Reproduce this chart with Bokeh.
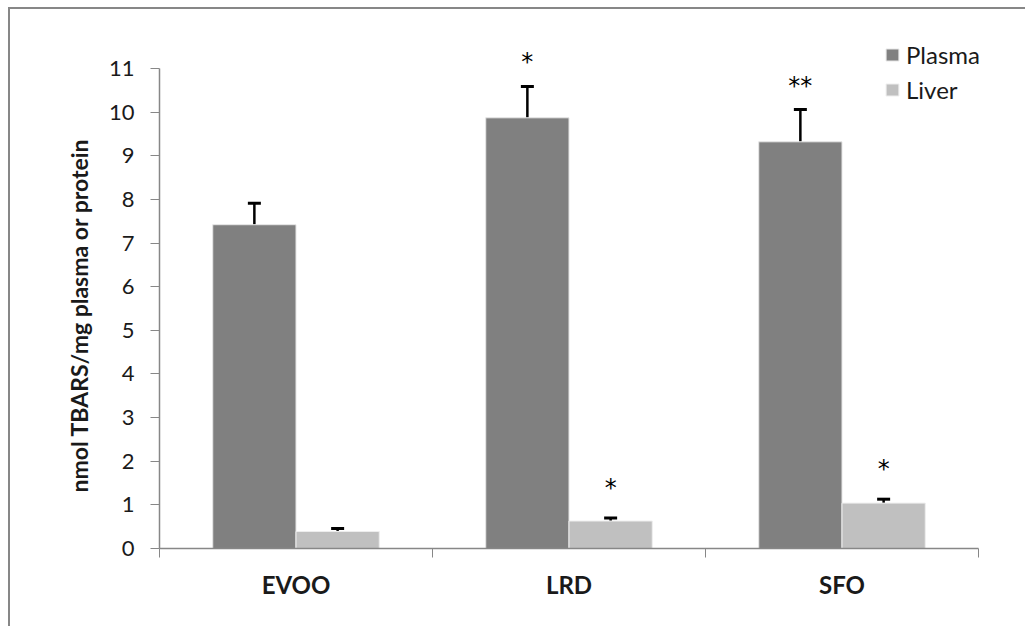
import numpy as np
from bokeh.plotting import figure
from bokeh.models import (ColumnDataSource, Whisker, TeeHead, FixedTicker, Legend, LegendItem,
                          Range1d, Title)
from bokeh.core.properties import value
from bokeh.embed import file_html
from bokeh.resources import INLINE

categories = ["EVOO", "LRD", "SFO"]
plasma = [7.42, 9.87, 9.32]
plasma_err = [0.49, 0.72, 0.74]
liver = [0.39, 0.63, 1.04]
liver_err = [0.07, 0.07, 0.09]
plasma_sig = ["", "*", "**"]
liver_sig = ["", "*", "*"]
y_ticks = list(range(0, 12))
y_title = "nmol TBARS/mg plasma or protein"

FONT = "Lato"
TXT = "#1a1a1a"
AX = "#878787"
DARK = "#808080"
LIGHT = "#c0c0c0"
BW = 0.305

idx = np.arange(len(categories))
centers = idx + 0.5
src_p = ColumnDataSource(dict(x=centers - BW / 2, top=plasma,
                              upper=np.array(plasma) + np.array(plasma_err),
                              sig=plasma_sig))
src_l = ColumnDataSource(dict(x=centers + BW / 2, top=liver,
                              upper=np.array(liver) + np.array(liver_err),
                              sig=liver_sig))

# frame extends above the 11 tick and right of the last category so that
# asterisks and the legend are not clipped; axes are bounded to the data area
PX_PER_Y = 43.636
PX_PER_X = 273.0
Y_TOP = 11 + 48 / PX_PER_Y
X_END = 3 + 44 / PX_PER_X
p = figure(width=1017, height=619, output_backend="svg", toolbar_location=None,
           x_range=Range1d(0, X_END), y_range=Range1d(0, Y_TOP),
           min_border_left=149, min_border_right=5, min_border_top=11, min_border_bottom=80)
p.styles = {"margin-left": "8px", "margin-top": "7px",
            "border-left": "2px solid #878787", "border-top": "2px solid #878787"}
p.outline_line_color = None
p.grid.visible = False
p.background_fill_color = "white"
p.border_fill_color = "white"

rp = p.vbar(x="x", top="top", width=BW, source=src_p, fill_color=DARK,
            line_color="#e6e6e6", line_width=1)
rl = p.vbar(x="x", top="top", width=BW, source=src_l, fill_color=LIGHT,
            line_color="#eeeeee", line_width=1)

for src, off in ((src_p, -24), (src_l, -30)):
    w = Whisker(source=src, base="x", lower="top", upper="upper", dimension="height",
                line_color="black", line_width=2.5,
                upper_head=TeeHead(size=13, line_color="black", line_width=3),
                lower_head=None)
    p.add_layout(w)
    p.text(x="x", y="upper", text="sig", source=src, text_align="center",
           text_baseline="middle", y_offset=off, text_font=value("DejaVu Sans"),
           text_font_size="24px", text_color="black")

# y axis
ya = p.yaxis[0]
ya.ticker = FixedTicker(ticks=y_ticks)
ya.bounds = (0, 11)
ya.minor_tick_line_color = None
ya.major_tick_in = 0
ya.major_tick_out = 9
ya.axis_line_color = AX
ya.major_tick_line_color = AX
ya.axis_line_width = 1.5
ya.major_label_text_font = FONT
ya.major_label_text_font_size = "22px"
ya.major_label_text_color = TXT
ya.major_label_standoff = 16

yt = Title(text=y_title, align="left", offset=56, standoff=26,
           text_font=FONT, text_font_style="bold", text_font_size="23px", text_color=TXT)
p.add_layout(yt, "left")

# x axis
xa = p.xaxis[0]
xa.ticker = FixedTicker(ticks=list(centers), minor_ticks=list(np.arange(len(categories) + 1)))
xa.bounds = (0, 3)
xa.major_label_overrides = {float(c): n for c, n in zip(centers, categories)}
xa.major_tick_line_color = None
xa.major_tick_in = 0
xa.major_tick_out = 0
xa.minor_tick_in = 0
xa.minor_tick_out = 9
xa.minor_tick_line_color = AX
xa.axis_line_color = AX
xa.axis_line_width = 1.5
xa.major_label_text_font = FONT
xa.major_label_text_font_style = "bold"
xa.major_label_text_font_size = "24px"
xa.major_label_text_color = TXT
xa.major_label_standoff = 12

legend = Legend(items=[LegendItem(label="Plasma", renderers=[rp]),
                       LegendItem(label="Liver", renderers=[rl])],
                location=(725, 441), padding=0, margin=0, spacing=0,
                glyph_width=16, glyph_height=15, label_height=35, label_standoff=6,
                label_text_font=FONT, label_text_font_size="24px", label_text_color=TXT,
                border_line_color=None, background_fill_alpha=0)
p.add_layout(legend)

open("out.html", "w").write(file_html(p, INLINE))
